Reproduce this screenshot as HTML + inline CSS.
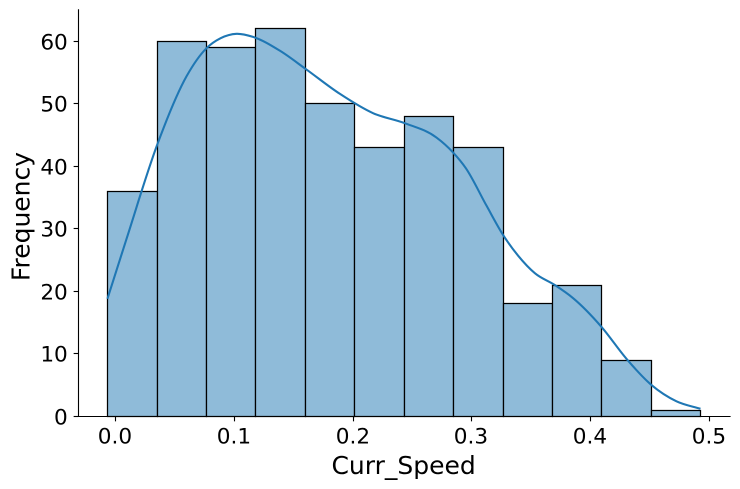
<!DOCTYPE html>
<html>
<head>
<meta charset="utf-8">
<title>Curr_Speed histogram</title>
<style>
html,body{margin:0;padding:0;background:#fff;width:740px;height:489px;overflow:hidden}
svg{display:block}
text{font-family:"DejaVu Sans","Liberation Sans",sans-serif;fill:#000}
</style>
</head>
<body>
<svg id="chart" xmlns="http://www.w3.org/2000/svg" width="740" height="489" viewBox="0 0 740 489"></svg>
<script>
const binEdges = [-0.0067, 0.0354, 0.0765, 0.1181, 0.1597, 0.2013, 0.2429, 0.2845, 0.3265, 0.3677, 0.4093, 0.4509, 0.4925];
const binCounts = [36, 60, 59, 62, 50, 43, 48, 43, 18, 21, 9, 1];
const kdeX = [-0.0068, 0.0093, 0.0354, 0.0598, 0.0766, 0.0885, 0.1019, 0.1158, 0.1383, 0.1599, 0.1888, 0.2168, 0.2435, 0.2702, 0.2842, 0.2949, 0.3123, 0.3263, 0.3389, 0.353, 0.3698, 0.3852, 0.4091, 0.4301, 0.4512, 0.4722, 0.4924];
const kdeY = [18.8, 28.4, 43.6, 54.4, 58.9, 60.5, 61.2, 60.7, 58.5, 55.6, 51.6, 48.5, 46.9, 44.6, 42.2, 39.7, 33.7, 29, 25.7, 22.9, 21, 18.9, 14.3, 9.2, 5, 2.4, 1.2];
const xTicks = [0, 0.1, 0.2, 0.3, 0.4, 0.5];
const xTickLabels = ['0.0', '0.1', '0.2', '0.3', '0.4', '0.5'];
const yTicks = [0, 10, 20, 30, 40, 50, 60];
const yTickLabels = ['0', '10', '20', '30', '40', '50', '60'];

const NS = 'http://www.w3.org/2000/svg';
const svg = document.getElementById('chart');
const plotLeft = 78.5, plotRight = 730.6, plotBottom = 416.5, plotTop = 9.3;
function xScale(v) { return 115.5 + v * 1188; }
function yScale(v) { return 416.3 - v * 6.25; }
function snap(p) { return Math.round(p - 0.5) + 0.5; }
function make(tag, attrs, parent) {
  const el = document.createElementNS(NS, tag);
  for (const k in attrs) el.setAttribute(k, attrs[k]);
  (parent || svg).appendChild(el);
  return el;
}

// bars
const barsGroup = make('g', {});


binCounts.forEach(function (c, i) {
  const x0 = snap(xScale(binEdges[i])), x1 = snap(xScale(binEdges[i + 1]));
  const top = snap(yScale(c)), base = snap(yScale(0));
  const bar = make('rect', {
    x: x0, y: top, width: x1 - x0, height: base - top,
    fill: '#8fbbd9', stroke: '#000', 'stroke-width': 1.25
  }, barsGroup);
  
  
});

// kde curve: cubic Hermite with spacing-weighted tangents through the read points
const pts = kdeX.map(function (x, i) { return [xScale(x), yScale(kdeY[i])]; });
const n = pts.length;
const slopes = pts.map(function (p, i) {
  if (i === 0) return (pts[1][1] - p[1]) / (pts[1][0] - p[0]);
  if (i === n - 1) return (p[1] - pts[i - 1][1]) / (p[0] - pts[i - 1][0]);
  const h0 = p[0] - pts[i - 1][0], h1 = pts[i + 1][0] - p[0];
  const s0 = (p[1] - pts[i - 1][1]) / h0, s1 = (pts[i + 1][1] - p[1]) / h1;
  return (s0 * h1 + s1 * h0) / (h0 + h1);
});
let d = 'M' + pts[0][0] + ' ' + pts[0][1];
for (let i = 0; i < n - 1; i++) {
  const h = (pts[i + 1][0] - pts[i][0]) / 3;
  d += ' C' + (pts[i][0] + h) + ' ' + (pts[i][1] + slopes[i] * h) + ' ' +
       (pts[i + 1][0] - h) + ' ' + (pts[i + 1][1] - slopes[i + 1] * h) + ' ' + pts[i + 1][0] + ' ' + pts[i + 1][1];
}
const kde = make('path', { d: d, fill: 'none', stroke: '#1f77b4', 'stroke-width': 2.08, 'stroke-linejoin': 'round' });



// spines
const leftSpine = make('line', { x1: plotLeft, x2: plotLeft, y1: plotTop, y2: plotBottom + 0.55, stroke: '#000', 'stroke-width': 1.11 });


const bottomSpine = make('line', { x1: plotLeft, x2: plotRight, y1: plotBottom, y2: plotBottom, stroke: '#000', 'stroke-width': 1.11 });



// x ticks
xTicks.forEach(function (v, i) {
  const px = snap(xScale(v));
  const tick = make('line', { x1: px, x2: px, y1: plotBottom, y2: plotBottom + 4.86, stroke: '#000', 'stroke-width': 1.11 });
  
  
  const label = make('text', { x: px - 0.6, y: 443.5, 'text-anchor': 'middle', 'font-size': 21.6 });
  label.textContent = xTickLabels[i];
  
  
});

// y ticks
yTicks.forEach(function (v, i) {
  const py = snap(yScale(v));
  const tick = make('line', { x1: plotLeft, x2: plotLeft - 4.86, y1: py, y2: py, stroke: '#000', 'stroke-width': 1.11 });
  
  
  const label = make('text', { x: 67.8, y: py + 8, 'text-anchor': 'end', 'font-size': 21.6 });
  label.textContent = yTickLabels[i];
  
  
});
</script>
<script>
const chartSvg = document.getElementById('chart');
const xTitle = document.createElementNS('http://www.w3.org/2000/svg', 'text');
xTitle.setAttribute('x', '403.6');
xTitle.setAttribute('y', '474');
xTitle.setAttribute('text-anchor', 'middle');
xTitle.setAttribute('font-size', '25');
xTitle.textContent = 'Curr_Speed';


chartSvg.appendChild(xTitle);
const yTitle = document.createElementNS('http://www.w3.org/2000/svg', 'text');
yTitle.setAttribute('transform', 'translate(29.5 216.5) rotate(-90)');
yTitle.setAttribute('text-anchor', 'middle');
yTitle.setAttribute('font-size', '25');
yTitle.textContent = 'Frequency';


chartSvg.appendChild(yTitle);
</script>
</body>
</html>
